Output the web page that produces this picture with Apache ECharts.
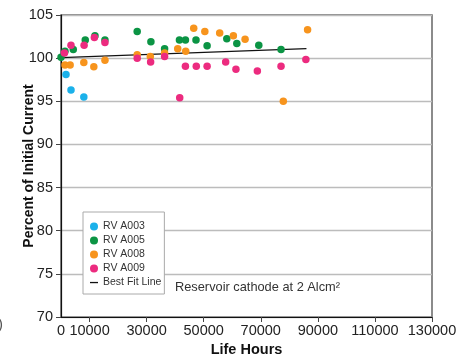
<!DOCTYPE html>
<html>
<head>
<meta charset="utf-8">
<script src="https://cdn.jsdelivr.net/npm/echarts@6/dist/echarts.min.js"></script>
<style>
  html, body { margin: 0; padding: 0; background: #fff; }
  #chart { width: 460px; height: 358px; }
</style>
</head>
<body>
<div id="chart"></div>
<script>
// Cathode emission life test: percent of initial current vs. life hours
const hoursA003 = [1750, 3500, 8000];
const pctA003   = [98.1, 96.3, 95.5];

const hoursA005 = [0, 1400, 4300, 8500, 11900, 15400, 26700, 31500, 36300, 41500, 43600, 47300, 51200, 58100, 61600, 69300, 77100];
const pctA005   = [100.1, 100.8, 101.0, 102.1, 102.6, 102.1, 103.1, 101.9, 101.1, 102.1, 102.1, 102.1, 101.45, 102.25, 101.7, 101.5, 101.0];

const hoursA008 = [1400, 3200, 8000, 11500, 15400, 26700, 31300, 36300, 40900, 43700, 46500, 50400, 55600, 60400, 64500, 77900, 86400];
const pctA008   = [99.2, 99.2, 99.5, 99.0, 99.75, 100.4, 100.2, 100.6, 101.1, 100.8, 103.45, 103.1, 102.9, 102.6, 102.2, 95.0, 103.3];

const hoursA009 = [1200, 3500, 8100, 11700, 15400, 26700, 31400, 36300, 41600, 43600, 47400, 51200, 57700, 61300, 68800, 77100, 85800];
const pctA009   = [100.6, 101.5, 101.5, 102.4, 101.8, 100.0, 99.55, 100.2, 95.4, 99.05, 99.05, 99.05, 99.55, 98.7, 98.5, 99.05, 99.85];

const fitHours = [0, 86000];
const fitPct   = [100.05, 101.1];

const xTickValues = [0, 10000, 30000, 50000, 70000, 90000, 110000, 130000];
const seriesNames = ['RV A003', 'RV A005', 'RV A008', 'RV A009', 'Best Fit Line'];
const seriesColors = ['#1bb1ea', '#0b9444', '#f7941d', '#ec2b7f', '#111111'];

const zip = (xs, ys) => xs.map((x, i) => [x, ys[i]]);

const font = 'Liberation Sans, Arial, Helvetica, sans-serif';
// short horizontal dash inside an 8x8 box, used as the fit-line legend icon
const dashIcon = 'path://M0,0M0,3.4h8v1.3h-8zM8,8';

const scatter = (name, xs, ys, color) => ({
  name,
  type: 'scatter',
  data: zip(xs, ys),
  symbol: 'circle',
  symbolSize: 7.5,
  itemStyle: { color, opacity: 1 },
  z: 3
});

const chart = echarts.init(document.getElementById('chart'), null, { renderer: 'canvas' });

chart.setOption({
  animation: false,
  backgroundColor: '#fff',
  textStyle: { fontFamily: font },
  grid: {
    left: 61, right: 28, top: 15, bottom: 41,
    outerBoundsMode: 'none',
    containLabel: false,
    show: true,
    borderColor: '#666',
    borderWidth: 1.5,
    backgroundColor: 'transparent'
  },
  xAxis: {
    type: 'value',
    min: 0,
    max: 130000,
    name: 'Life Hours',
    nameLocation: 'middle',
    nameGap: 25,
    nameTextStyle: { fontSize: 14.5, fontWeight: 'bold', color: '#111', fontFamily: font },
    axisLine: { show: true, onZero: false, lineStyle: { color: '#111', width: 1.2 } },
    axisTick: { show: true, length: 5, customValues: xTickValues.slice(1), lineStyle: { color: '#444' } },
    axisLabel: {
      customValues: xTickValues,
      fontSize: 14.5,
      color: '#222',
      margin: 6,
      fontFamily: font,
      formatter: v => String(v)
    },
    splitLine: { show: false }
  },
  yAxis: {
    type: 'value',
    min: 70,
    max: 105,
    interval: 5,
    name: 'Percent of Initial Current',
    nameLocation: 'middle',
    nameGap: 25,
    nameMoveOverlap: false,
    nameRotate: 90,
    nameTextStyle: { fontSize: 14, fontWeight: 'bold', color: '#111', fontFamily: font },
    axisLine: { show: true, onZero: false, lineStyle: { color: '#111', width: 1.2 } },
    axisTick: { show: true, length: 5, lineStyle: { color: '#444' } },
    axisLabel: { fontSize: 14.5, color: '#222', margin: 8, fontFamily: font },
    splitLine: { show: true, lineStyle: { color: '#bcbcbc', width: 1.3 } }
  },
  legend: {
    orient: 'vertical',
    left: 83,
    top: 212,
    data: [
      { name: 'RV A003', icon: 'circle' },
      { name: 'RV A005', icon: 'circle' },
      { name: 'RV A008', icon: 'circle' },
      { name: 'RV A009', icon: 'circle' },
      { name: 'Best Fit Line', icon: dashIcon }
    ],
    itemWidth: 8,
    itemHeight: 8,
    itemGap: 3,
    padding: [9, 3, 6, 7],
    backgroundColor: '#fff',
    borderColor: '#aaa',
    borderWidth: 1,
    textStyle: { fontSize: 10.5, color: '#333', fontFamily: font }
  },
  graphic: [
    {
      type: 'text',
      x: 175,
      y: 281,
      style: { text: 'Reservoir cathode at 2 Alcm\u00B2', fontSize: 12.8, fill: '#333', fontFamily: font }
    },
    {
      type: 'text',
      x: -2,
      y: 317,
      style: { text: ')', fontSize: 15, fill: '#555', fontFamily: font }
    }
  ],
  series: [
    scatter(seriesNames[0], hoursA003, pctA003, seriesColors[0]),
    scatter(seriesNames[1], hoursA005, pctA005, seriesColors[1]),
    scatter(seriesNames[2], hoursA008, pctA008, seriesColors[2]),
    scatter(seriesNames[3], hoursA009, pctA009, seriesColors[3]),
    {
      name: seriesNames[4],
      type: 'line',
      data: zip(fitHours, fitPct),
      symbol: 'none',
      showSymbol: false,
      lineStyle: { color: seriesColors[4], width: 1.2 },
      itemStyle: { color: seriesColors[4] },
      z: 2
    }
  ]
});
</script>
</body>
</html>
